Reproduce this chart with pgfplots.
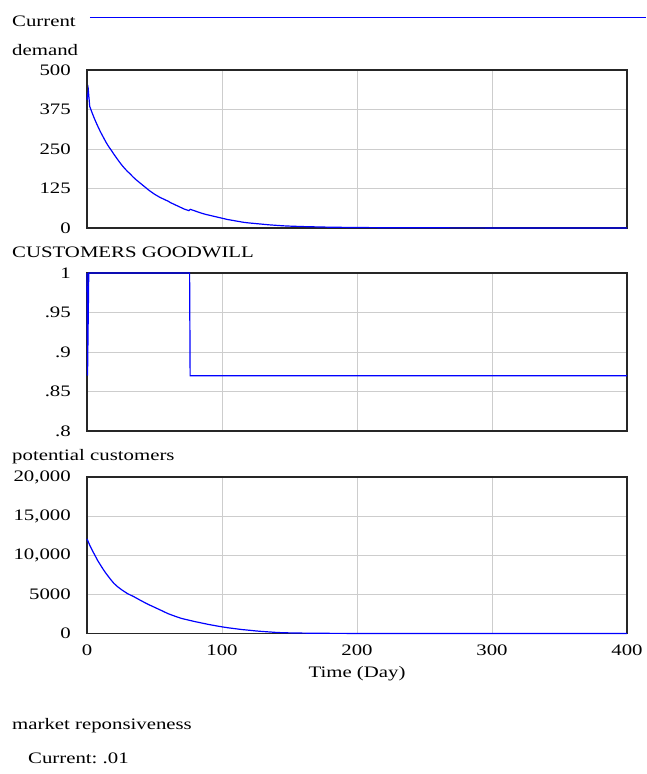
\documentclass[border=0pt]{standalone}
\usepackage{fontspec}
\setmainfont{Liberation Serif}[FakeStretch=1.3]
\usepackage{pgfplots}
\pgfplotsset{compat=1.18}
\definecolor{vblue}{RGB}{0,0,255}
\definecolor{vgrid}{RGB}{205,205,205}

\begin{document}
\frenchspacing
\fontsize{16}{19}\selectfont
\begin{tikzpicture}[font=\fontsize{16}{19}\selectfont]
\useasboundingbox (0,0) rectangle (646pt,-774pt);
\pgfplotsset{
  panel/.style={
    scale only axis, width=540pt, xmin=0, xmax=400,
    axis line style={black!85, line width=1.1pt},
    grid=major, grid style={vgrid, line width=1pt},
    major tick length=0pt, tick style={draw=none},
    clip=false, scaled y ticks=false, scaled x ticks=false,
    yticklabel style={anchor=east, inner sep=0pt, xshift=-16pt},
    xticklabel style={anchor=north, inner sep=0pt, yshift=-11.5pt},
  },
  vline/.style={color=blue, draw=blue, line width=1.2pt, no markers},
}

% panel titles
\node[anchor=base west, inner sep=0pt] at (12pt,-26pt) {Current};
\node[anchor=base west, inner sep=0pt] at (12pt,-55pt) {demand};
\node[anchor=base west, inner sep=0pt] at (12pt,-257.3pt) {CUSTOMERS GOODWILL};
\node[anchor=base west, inner sep=0pt] at (12pt,-460pt) {potential customers};

% Panel 1: Current demand
\begin{axis}[panel, at={(87pt,-228pt)}, anchor=south west, height=158pt,
  ymin=0, ymax=500, ytick={0,125,250,375,500},
  yticklabels={0,125,250,375,500},
  xtick={100,200,300}, xticklabels={}]
\addplot[vline] table {
t v
0 405
1 436
2 385
4 362
6 341
8 322
10 304
12 288
14 272
16 258
18 246
20 233
22 221
24 209
26 198
28 188
30 179
32 171
34 162
36 154
38 147
40 140
42 133
44 126
46 119
48 113
50 107
52 102
54 97
56 93
58 89
60 85
62 80
64 76
66 72
68 68
70 64
72 60
74 57
75.5 55
76.5 59
78 57
80 54
84 48
88 43
92 39
96 35
100 31
104 27
108 24
112 21
116 18
120 16
125 14
130 12
135 10
140 8.5
145 7
150 6
160 4.5
170 3.5
180 2.5
190 2
200 1.5
220 1
250 0.6
300 0.3
350 0.1
400 0.05
};
% legend line for the "Current" run (above the plot area)
\addplot[vline] coordinates {(2.2,666.8) (414.1,666.8)};
\end{axis}

% Panel 2: Customers goodwill
\begin{axis}[panel, at={(87pt,-431pt)}, anchor=south west, height=158pt,
  ymin=0.8, ymax=1, ytick={0.8,0.85,0.9,0.95,1},
  yticklabels={.8,.85,.9,.95,1},
  xtick={100,200,300}, xticklabels={}]
\addplot[vline] table {
t v
0 1
0.4 0.87
1.3 1
76 1
76.4 0.87
400 0.87
};
\end{axis}

% Panel 3: potential customers
\begin{axis}[panel, at={(87pt,-633.5pt)}, anchor=south west, height=156.5pt,
  ymin=0, ymax=20000, ytick={0,5000,10000,15000,20000},
  yticklabels={0,5000,{10,000},{15,000},{20,000}},
  xtick={0,100,200,300,400}, xticklabels={0,100,200,300,400}]
\addplot[vline] table {
t v
0 12100
2 11300
4 10600
6 9950
8 9300
10 8750
12 8200
14 7700
16 7250
18 6800
20 6400
23 5930
26 5550
30 5100
35 4680
40 4200
45 3750
50 3350
55 2950
60 2540
65 2220
70 1930
75 1720
80 1520
85 1340
90 1160
95 1000
100 850
105 720
110 610
115 500
120 420
125 330
130 260
135 200
140 140
145 100
150 80
160 50
170 30
180 20
200 10
250 5
300 2
400 0
};
\end{axis}

\node[anchor=base, inner sep=0pt] at (357pt,-677pt) {Time (Day)};
\node[anchor=base west, inner sep=0pt] at (12pt,-729pt) {market reponsiveness};
\node[anchor=base west, inner sep=0pt] at (28pt,-763pt) {Current: .01};
\end{tikzpicture}
\end{document}
